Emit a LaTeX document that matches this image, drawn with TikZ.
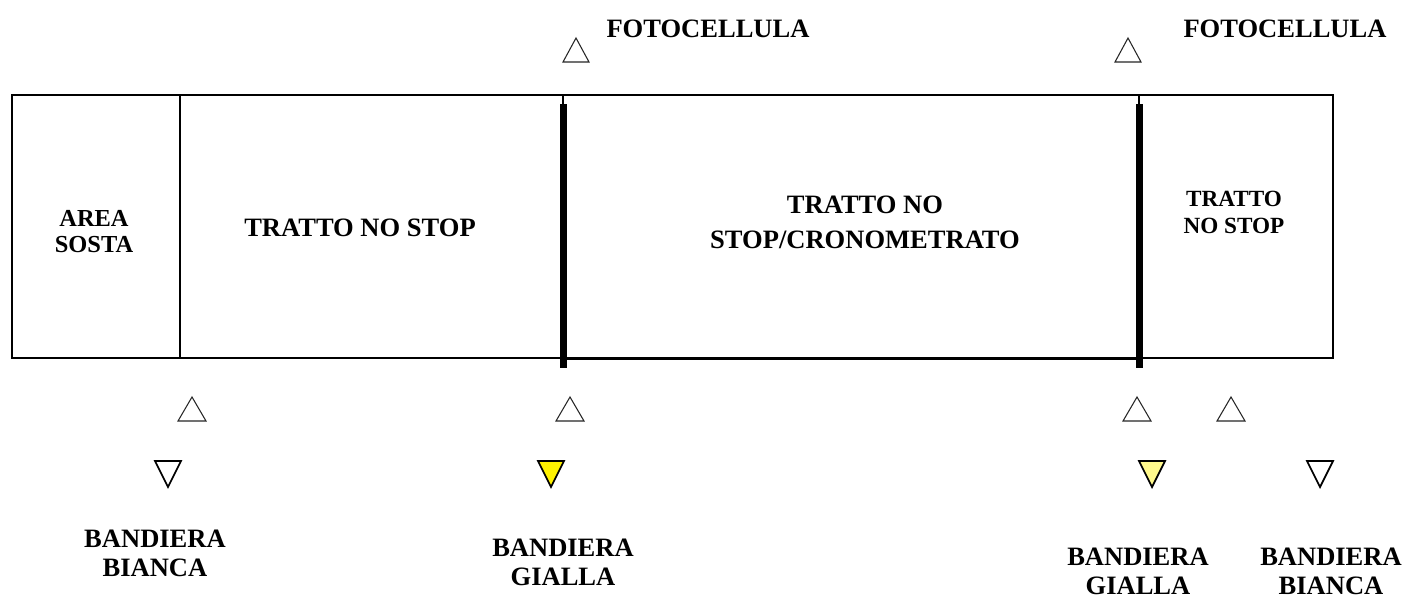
\documentclass[tikz,border=0pt]{standalone}
\usepackage{fontspec}
\setmainfont{Liberation Serif}

\begin{document}
\begin{tikzpicture}[x=0.02cm,y=-0.02cm,
  lbl/.style={font=\bfseries\fontsize{15.1}{16.4}\selectfont,align=center,anchor=base,inner sep=0pt},
  smalllbl/.style={lbl,font=\bfseries\fontsize{13.9}{14.8}\selectfont},
  sensor/.style={draw=black!85,line width=0.6pt,fill=white},
  flag/.style={draw=black,line width=1pt}]
\useasboundingbox (0,0) rectangle (1403,599);
% Draw the track
\draw[line width=1.1pt] (12,95) rectangle (1333,358);
\draw[line width=1.1pt] (180,95) -- (180,358);
\draw[line width=1.7pt] (563,95) -- (1139,95);
\draw[line width=1.7pt] (563,358) -- (1139,358);
% Thick bars at the photocells
\draw[line width=1.6pt] (563,95) -- (563,104);
\draw[line width=1.6pt] (1139,95) -- (1139,104);
\fill[black] (559.5,104) rectangle (566.5,368);
\fill[black] (1135.5,104) rectangle (1142.5,368);
% Labels in the track
\node[smalllbl] (sosta) at (94,252) {AREA\\SOSTA};
\node[lbl] (nostop) at (360,236) {TRATTO NO STOP};
\node[lbl,font=\bfseries\fontsize{15.1}{19.8}\selectfont] (crono) at (865,248) {TRATTO NO\\STOP/CRONOMETRATO};
\node[smalllbl,font=\bfseries\fontsize{13.2}{15.3}\selectfont] (nostopb) at (1234,233) {TRATTO\\NO STOP};
% Photocells
\draw[sensor] (563,62) -- (576,38) -- (589,62) -- cycle;
\draw[sensor] (1115,62) -- (1128,38) -- (1141,62) -- cycle;
\node[lbl] (fotoa) at (708,37) {FOTOCELLULA};
\node[lbl] (fotob) at (1285,37) {FOTOCELLULA};
% Lower marks
\draw[sensor] (178,421) -- (192,397) -- (206,421) -- cycle;
\draw[sensor] (556,421) -- (570,397) -- (584,421) -- cycle;
\draw[sensor] (1123,421) -- (1137,397) -- (1151,421) -- cycle;
\draw[sensor] (1217,421) -- (1231,397) -- (1245,421) -- cycle;
% Flags
\draw[flag,fill=white] (155,461) -- (181,461) -- (168,487) -- cycle;
\draw[flag,fill=yellow] (538,461) -- (564,461) -- (551,487) -- cycle;
\draw[flag,fill=yellow!45] (1139,461) -- (1165,461) -- (1152,487) -- cycle;
\draw[flag,fill=white] (1307,461) -- (1333,461) -- (1320,487) -- cycle;
\node[lbl] (biancaa) at (155,576) {BANDIERA\\BIANCA};
\node[lbl] (giallaa) at (563,585) {BANDIERA\\GIALLA};
\node[lbl] (giallab) at (1138,594) {BANDIERA\\GIALLA};
\node[lbl] (biancab) at (1331,594) {BANDIERA\\BIANCA};
\end{tikzpicture}
\end{document}
